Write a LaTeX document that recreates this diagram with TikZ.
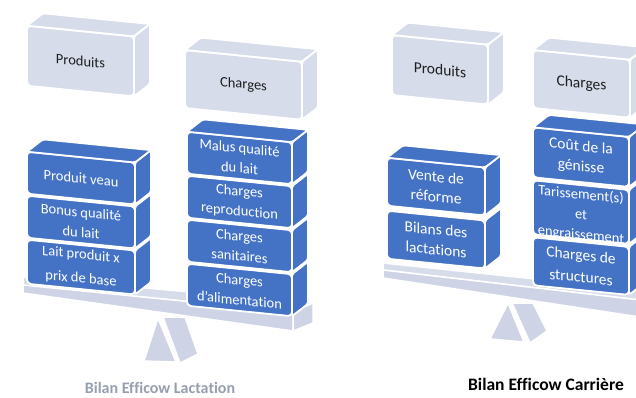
\documentclass[tikz,border=0pt]{standalone}
\usepackage{fontspec}
\setmainfont{Carlito}[Ligatures=NoCommon]
\usetikzlibrary{calc}

\definecolor{effblue}{RGB}{68,114,196}
\definecolor{effgrey}{RGB}{214,220,234}
\definecolor{beamgrey}{RGB}{206,212,229}
\definecolor{capgrey}{RGB}{150,159,174}
\definecolor{labeldark}{RGB}{30,30,30}

\tikzset{
  face/.style={draw=white, line width=1.8pt, line join=round, rounded corners=2.5pt},
  front/.style={face, rounded corners=4pt, anchor=north west, inner sep=0pt,
    outer sep=0pt, align=center, transform shape},
  bluebox/.style={front, fill=effblue, text=white},
  greybox/.style={front, fill=effgrey, text=labeldark},
  lfont/.style={font=\fontsize{14.5}{20}\selectfont},
  rfont/.style={font=\fontsize{15.5}{20}\selectfont},
  plank/.style={draw=white, line width=1.5pt, line join=round},
  caption/.style={font=\bfseries\fontsize{16}{18}\selectfont},
}

% side and top faces of a block, drawn from the corners of its front face
\newcommand\effside[2]{\path[face, fill=#2] (#1.north east) -- ++(16,-14)
  -- ($(#1.south east)+(16,-14)$) -- (#1.south east) -- cycle;}
\newcommand\efftop[2]{\path[face, fill=#2] (#1.north west) -- ++(16,-14)
  -- ($(#1.north east)+(16,-14)$) -- (#1.north east) -- cycle;}

\begin{document}
\begin{tikzpicture}[x=1pt,y=-1pt]
\useasboundingbox (0,0) rectangle (636,397);
\clip (0,0) rectangle (636,397);

% ---------- fulcrums ----------
\path[plank, fill=beamgrey] (158,318) -- (144,361) -- (176,362) -- cycle;
\path[plank, fill=beamgrey] (163,317) -- (185,317) -- (198,354) -- (180,363) -- cycle;
\path[plank, fill=beamgrey] (508,303) -- (490,339) -- (524,342) -- cycle;
\path[plank, fill=beamgrey] (512,303) -- (533,303) -- (547,331) -- (530,343) -- cycle;

% ---------- beams ----------
\path[plank, fill=effgrey]  (23,277) -- (313,303) -- (293,312) -- (23,285) -- cycle;
\path[plank, fill=beamgrey] (23,285) -- (293,312) -- (293,331) -- (23,293) -- cycle;
\path[plank, fill=beamgrey] (293,312) -- (313,303) -- (313,323) -- (293,331) -- cycle;
\path[plank, fill=effgrey]  (383,263) -- (640,290) -- (640,300) -- (383,270) -- cycle;
\path[plank, fill=beamgrey] (383,270) -- (640,300) -- (640,317) -- (383,278) -- cycle;

% ---------- blocks ----------
\begin{scope}[yslant=-0.1]
  % Lactation: header blocks
  \node[greybox, lfont, minimum width=107pt, minimum height=60pt] (lprod) at (27,23) {Produits};
  \efftop{lprod}{effgrey}\effside{lprod}{effgrey}
  \node[greybox, lfont, minimum width=117pt, minimum height=58pt] (lchg) at (185,31.5) {Charges};
  \efftop{lchg}{effgrey}\effside{lchg}{effgrey}

  % Lactation: products
  \node[bluebox, lfont, minimum width=108pt, minimum height=44pt] (llait) at (27,237)
    {Lait produit x\\[4pt]prix de base};
  \effside{llait}{effblue}
  \node[bluebox, lfont, minimum width=108pt, minimum height=42pt] (lbonus) at (27,193)
    {Bonus qualité\\du lait};
  \effside{lbonus}{effblue}
  \node[bluebox, lfont, minimum width=108pt, minimum height=42pt] (lveau) at (27,149)
    {Produit veau};
  \effside{lveau}{effblue}\efftop{lveau}{effblue}

  % Lactation: charges
  \node[bluebox, lfont, minimum width=105pt, minimum height=42pt] (lalim) at (187,245)
    {Charges\\d’alimentation};
  \effside{lalim}{effblue}
  \node[bluebox, lfont, minimum width=105pt, minimum height=42pt] (lsanit) at (187,201)
    {Charges\\sanitaires};
  \effside{lsanit}{effblue}
  \node[bluebox, lfont, minimum width=105pt, minimum height=42pt] (lrepro) at (187,157)
    {Charges\\reproduction};
  \effside{lrepro}{effblue}
  \node[bluebox, lfont, minimum width=105pt, minimum height=42pt] (lmalus) at (187,113)
    {Malus qualité\\du lait};
  \effside{lmalus}{effblue}\efftop{lmalus}{effblue}

  % Carrière: header blocks
  \node[greybox, rfont, minimum width=96pt, minimum height=60pt] (rprod) at (392,-4.2) {Produits};
  \efftop{rprod}{effgrey}\effside{rprod}{effgrey}
  \node[greybox, rfont, minimum width=97pt, minimum height=58pt] (rchg) at (533,-3.3) {Charges};
  \efftop{rchg}{effgrey}\effside{rchg}{effgrey}

  % Carrière: products
  \node[bluebox, rfont, minimum width=98pt, minimum height=48pt] (rbilan) at (387,172)
    {Bilans des\\lactations};
  \effside{rbilan}{effblue}
  \node[bluebox, rfont, minimum width=98pt, minimum height=48pt] (rvente) at (387,119)
    {Vente de\\réforme};
  \effside{rvente}{effblue}\efftop{rvente}{effblue}

  % Carrière: charges
  \node[bluebox, rfont, minimum width=96pt, minimum height=48pt] (rstruct) at (533,184)
    {Charges de\\[2pt]structures};
  \effside{rstruct}{effblue}
  \node[bluebox, minimum width=96pt, minimum height=54pt] (rtar) at (533,127) {};
  \effside{rtar}{effblue}
  \begin{scope}
    \clip (533,127) rectangle (629,181);
    \node[font=\fontsize{14.5}{17}\selectfont, text=white, align=center, transform shape]
      (rtartxt) at ($(rtar.center)+(0,3)$)
      {Tarissement(s)\\[3pt]et\\[3pt]engraissement};
  \end{scope}
  \node[bluebox, rfont, minimum width=96pt, minimum height=50pt] (rcout) at (533,74)
    {Coût de la\\génisse};
  \effside{rcout}{effblue}\efftop{rcout}{effblue}
\end{scope}

% ---------- captions ----------
\node[caption, text=capgrey] (capL) at (160,387.5) {Bilan Efficow Lactation};
\node[caption, font=\bfseries\fontsize{17.5}{20}\selectfont, text=black] (capR) at (546,384) {Bilan Efficow Carrière};
\end{tikzpicture}
\end{document}
